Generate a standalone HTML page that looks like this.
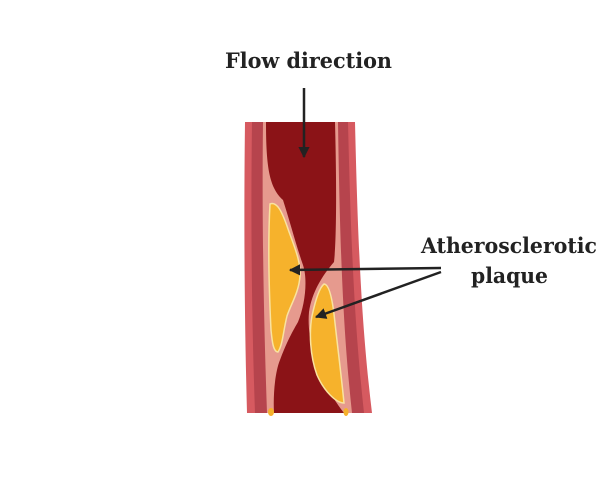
<!DOCTYPE html>
<html><head><style>html,body{margin:0;padding:0;background:#fff;width:600px;height:485px;overflow:hidden}</style></head>
<body>
<svg width="600" height="485" viewBox="0 0 600 485" xmlns="http://www.w3.org/2000/svg">
<defs>
<marker id="ah" viewBox="0 0 10 10" refX="9" refY="5" markerWidth="4.5" markerHeight="4.5" orient="auto"><path d="M0,0 L10,5 L0,10 z" fill="#222"/></marker>
</defs>
<path d="M245,122 L355,122 C358,250 362,330 372,413 L247,413 C244,300 244,200 245,122 z" fill="#d65a60"/>
<path d="M252,122 L348,122 C351,250 355,330 364,413 L255,413 C251,300 251,200 252,122 z" fill="#b6444d"/>
<path d="M263,122 L338,122 C340,250 343,330 352,413 L267,413 C263,300 262,200 263,122 z" fill="#e69a8e"/>
<path d="M266,122 L335,122 C337,200 336,245 334,262 C322,276 312,292 309,312 C306,345 322,385 344,413 L274,413 C273,395 275,372 280,360 C286,344 291,334 298,322 C305,305 308,280 303,265 C297,248 290,222 283,200 C270,188 266,170 266,122 z" fill="#8b1317"/>
<path d="M270,204 C277,201 282,212 287,226 C293,244 301,260 300,276 C299,292 291,304 287,316 C283,332 283,344 278,352 C273,352 272,340 271,330 C269,290 268,240 270,204 z" fill="#f6b22c" stroke="#f9e3a0" stroke-width="1.5"/>
<path d="M324,284 C329,284 332,298 334,314 C338,350 342,382 344,403 C336,403 324,391 317,375 C310,356 309,332 312,316 C315,302 319,288 324,284 z" fill="#f6b22c" stroke="#f9e3a0" stroke-width="1.5"/>
<ellipse cx="271" cy="412" rx="3" ry="4" fill="#f6b22c"/>
<ellipse cx="346" cy="412" rx="2.5" ry="4" fill="#f6b22c"/>
<line x1="304" y1="88" x2="304" y2="157" stroke="#222" stroke-width="2.5" marker-end="url(#ah)"/>
<line x1="441" y1="268" x2="290" y2="270" stroke="#222" stroke-width="2.5" marker-end="url(#ah)"/>
<line x1="441" y1="272" x2="316" y2="317" stroke="#222" stroke-width="2.5" marker-end="url(#ah)"/>
<g font-family="'DejaVu Serif','Liberation Serif',serif" font-weight="bold" font-size="21" fill="#222">
<text x="225" y="68" textLength="167" lengthAdjust="spacingAndGlyphs">Flow direction</text>
<text x="421" y="253" textLength="176" lengthAdjust="spacingAndGlyphs">Atherosclerotic</text>
<text x="471" y="283" textLength="77" lengthAdjust="spacingAndGlyphs">plaque</text>
</g>
</svg>
</body></html>
